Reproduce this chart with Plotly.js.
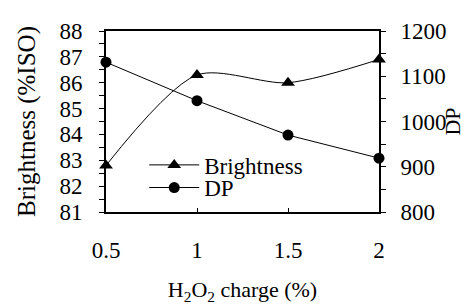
<!DOCTYPE html>
<html>
<head>
<meta charset="utf-8">
<script src="https://cdn.plot.ly/plotly-3.0.1.min.js"></script>
<style>html,body{margin:0;padding:0;background:#fff;}#chart{width:465px;height:305px;}</style>
</head>
<body>
<div id="chart"></div>
<script>
const charge = [0.5, 1, 1.5, 2];
const brightness = [82.8, 86.3, 86.0, 86.9];
const dp = [1131, 1046, 970, 919];
const xTicks = [0.5, 1, 1.5, 2];
const xTickText = ['0.5', '1', '1.5', '2'];

const FONT = 'Liberation Serif';

const traces = [
  {
    x: charge, y: brightness, name: 'Brightness', type: 'scatter', mode: 'lines+markers',
    line: {color: '#000', width: 1, shape: 'spline', smoothing: 0.8},
    marker: {symbol: 'triangle-up', size: 12, color: '#000'},
    cliponaxis: false, legend: 'legend'
  },
  {
    x: charge, y: dp, name: 'DP', type: 'scatter', mode: 'lines+markers', yaxis: 'y2',
    line: {color: '#000', width: 1},
    marker: {symbol: 'circle', size: 11, color: '#000'},
    cliponaxis: false, legend: 'legend2'
  }
];

const legendCommon = {
  xanchor: 'left', yanchor: 'middle',
  bgcolor: 'rgba(0,0,0,0)', borderwidth: 0,
  font: {family: FONT, size: 23, color: '#000'},
  itemwidth: 50
};

const layout = {
  width: 465, height: 305,
  margin: {l: 106, r: 86, t: 31, b: 93},
  paper_bgcolor: '#fff', plot_bgcolor: '#fff',
  font: {family: FONT, size: 23, color: '#000'},
  showlegend: true,
  legend: Object.assign({x: 0.14, y: 0.26}, legendCommon),
  legend2: Object.assign({x: 0.14, y: 0.135}, legendCommon),
  xaxis: {
    range: [0.5, 2],
    tickvals: xTicks, ticktext: xTickText,
    ticks: 'inside', ticklen: 4, tickwidth: 1, tickcolor: '#000',
    showline: true, linecolor: '#000', linewidth: 2, mirror: true,
    showgrid: false, zeroline: false,
    ticklabelstandoff: 16,
    tickfont: {family: FONT, size: 23, color: '#000'},
    title: {
      text: 'H<sub>2</sub>O<sub>2</sub> charge (%)',
      font: {family: FONT, size: 22, color: '#000'},
      standoff: 20
    }
  },
  yaxis: {
    range: [81, 88], dtick: 1,
    ticks: 'outside', ticklen: 5, tickwidth: 1, tickcolor: '#000',
    minor: {dtick: 0.5, ticks: 'outside', ticklen: 5, tickcolor: '#000', tickwidth: 1},
    showline: true, linecolor: '#000', linewidth: 2,
    showgrid: false, zeroline: false,
    ticklabelstandoff: 12,
    tickfont: {family: FONT, size: 23, color: '#000'},
    title: {
      text: 'Brightness (%ISO)',
      font: {family: FONT, size: 25, color: '#000'},
      standoff: 17
    }
  },
  yaxis2: {
    overlaying: 'y', side: 'right',
    range: [800, 1200], dtick: 100,
    ticks: 'outside', ticklen: 5, tickwidth: 1, tickcolor: '#000',
    minor: {dtick: 50, ticks: 'outside', ticklen: 5, tickcolor: '#000', tickwidth: 1},
    showline: true, linecolor: '#000', linewidth: 2,
    showgrid: false, zeroline: false,
    ticklabelstandoff: 10,
    tickfont: {family: FONT, size: 23, color: '#000'},
    title: {
      text: 'DP',
      font: {family: FONT, size: 22, color: '#000'},
      standoff: 4
    }
  }
};

Plotly.newPlot('chart', traces, layout, {displayModeBar: false, staticPlot: true});
</script>
</body>
</html>
